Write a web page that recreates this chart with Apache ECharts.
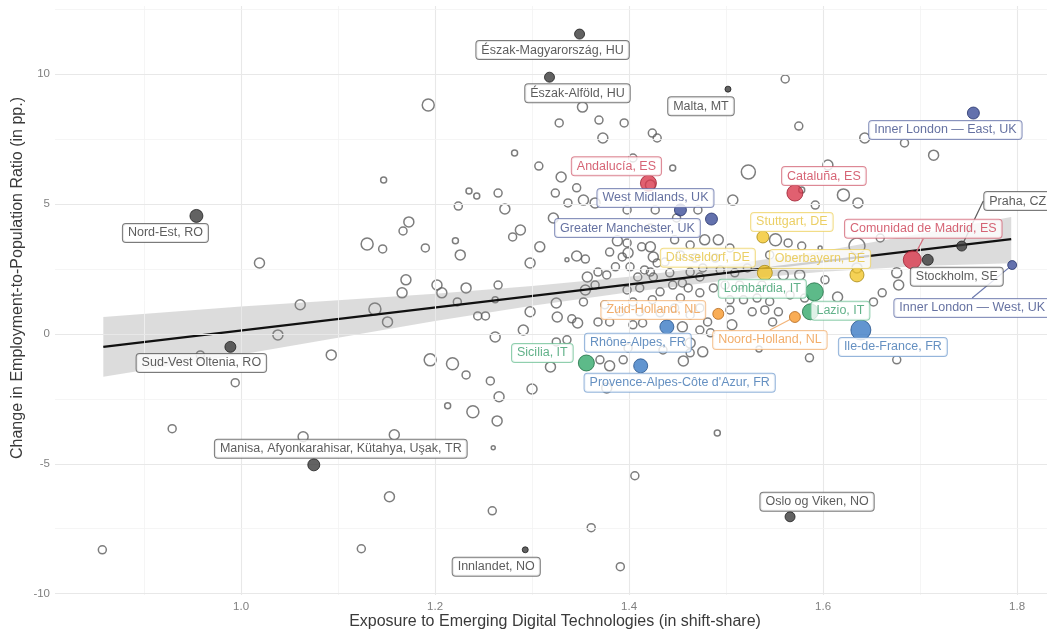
<!DOCTYPE html>
<html>
<head>
<meta charset="utf-8">
<script src="https://cdn.jsdelivr.net/npm/echarts@6/dist/echarts.min.js"></script>
<style>
  html, body { margin: 0; padding: 0; background: #ffffff; }
  #chart { width: 1047px; height: 634px; }
</style>
</head>
<body>
<div id="chart"></div>
<script>
// ---- Unlabelled regions: exposure (x), change in ratio (y), employment weight ----
const otherX = [0.857,0.929,0.958,0.994,1.019,1.038,1.061,1.064,1.093,1.124,1.130,1.146,1.147,1.138,1.151,1.158,1.153,1.167,1.173,1.166,
  1.170,1.193,1.190,1.195,1.202,1.207,1.213,1.218,1.221,1.224,1.223,1.226,1.232,1.232,1.235,1.243,1.239,1.244,1.252,1.257,
  1.260,1.259,1.262,1.264,1.265,1.266,1.265,1.262,1.272,1.280,1.282,1.288,1.291,1.298,1.298,1.300,1.307,1.308,1.319,1.322,
  1.324,1.325,1.326,1.325,1.328,1.330,1.336,1.337,1.336,1.341,1.346,1.346,1.347,1.352,1.353,1.353,1.355,1.357,1.355,1.361,
  1.365,1.365,1.368,1.368,1.369,1.370,1.373,1.377,1.377,1.380,1.380,1.380,1.386,1.388,1.391,1.393,1.395,1.394,1.398,1.398,
  1.399,1.398,1.399,1.401,1.404,1.404,1.404,1.406,1.409,1.411,1.413,1.414,1.416,1.422,1.422,1.422,1.424,1.424,1.425,1.425,
  1.427,1.429,1.429,1.432,1.435,1.442,1.445,1.445,1.449,1.453,1.453,1.455,1.455,1.456,1.461,1.463,1.463,1.463,1.463,1.471,
  1.473,1.473,1.473,1.476,1.476,1.478,1.481,1.484,1.487,1.491,1.492,1.494,1.504,1.504,1.504,1.506,1.507,1.509,1.518,1.522,
  1.523,1.527,1.540,1.532,1.534,1.545,1.551,1.554,1.559,1.561,1.564,1.548,1.575,1.578,1.578,1.586,1.592,1.597,1.605,1.615,
  1.621,1.635,1.636,1.643,1.652,1.659,1.661,1.676,1.678,1.676,1.684,1.714,1.635,1.375,1.391,1.432,1.411,1.463,1.473,1.447,
  1.437,1.468,1.447,1.489,1.514,1.499,1.537,1.545,1.576,1.581,1.566,1.602,1.422];
const otherY = [-8.31,-3.65,-0.81,-1.88,2.73,-0.04,1.12,-3.96,-0.81,-8.27,3.46,3.27,5.92,0.96,0.46,-3.88,-6.27,3.96,4.31,1.58,
  2.08,8.81,3.31,-1.00,1.88,1.58,-2.77,-1.15,3.58,4.92,1.23,3.04,1.77,-1.58,5.50,5.31,-3.00,0.69,0.69,-1.81,
  -4.38,-6.81,1.31,-3.35,1.88,-2.42,5.42,-0.12,4.81,3.73,6.96,4.00,0.15,2.73,0.85,-2.12,6.46,3.35,-1.27,4.46,
  5.42,1.19,0.65,-0.31,8.12,6.04,2.85,5.04,-0.23,0.58,5.62,3.00,0.42,8.73,5.15,1.23,2.88,2.19,1.69,-7.46,
  5.04,1.88,2.38,0.46,8.23,-1.00,7.54,2.27,-2.08,3.15,0.46,-1.23,2.58,3.58,-8.96,2.96,8.12,-1.00,4.77,3.50,
  3.12,1.69,-0.54,2.58,6.77,1.23,0.35,-5.46,2.19,1.77,3.35,0.42,2.46,5.73,3.35,2.38,7.73,1.31,2.96,2.19,
  4.77,7.54,2.73,1.62,-0.62,2.35,6.38,1.88,4.46,3.04,1.38,1.96,0.27,-1.04,1.77,3.42,2.38,-0.35,-0.73,4.77,
  2.19,1.58,0.15,2.54,-0.69,3.62,0.46,0.04,1.77,-3.81,3.62,2.46,3.31,1.31,0.92,0.35,5.15,2.35,1.31,2.54,
  6.23,0.85,0.92,1.38,-0.58,1.25,3.62,0.85,2.27,9.81,3.50,0.46,8.00,5.54,3.38,-0.92,4.96,3.31,6.50,1.42,
  5.35,3.38,5.04,7.54,1.23,3.69,1.58,2.35,1.88,-1.00,7.35,6.88,2.54,1.12,0.85,0.81,0.85,0.73,1.00,1.00,
  2.77,2.92,3.62,2.92,1.88,1.88,1.88,3.04,2.27,1.38,1.50,2.08,4.08];
const otherW = [16,16,16,16,25,25,25,25,25,16,36,16,9,36,25,25,25,16,25,25,
  25,36,16,36,25,25,9,36,9,16,16,25,25,16,9,9,36,16,16,16,
  4,16,9,25,16,25,16,25,25,16,9,25,25,25,25,25,16,25,25,25,
  16,25,25,16,16,25,4,16,16,16,16,25,25,25,25,16,16,25,25,16,
  25,16,16,16,16,16,25,16,25,16,16,25,16,25,16,16,16,16,16,16,
  25,16,16,16,16,16,16,16,16,16,16,16,16,25,25,16,16,16,25,16,
  16,16,16,16,16,16,9,16,16,16,16,16,25,25,16,16,16,25,16,16,
  16,16,16,16,25,25,16,16,16,9,25,16,16,16,16,25,25,16,16,16,
  49,16,16,16,9,16,36,16,25,16,16,16,16,9,16,16,16,4,25,25,
  36,64,25,25,16,16,16,25,25,16,16,25,25,16,16,16,16,16,16,16,
  16,16,16,16,16,16,16,16,25,16,16,16,16];

// ---- Labelled regions ----
const hlNames = ['Észak-Magyarország, HU','Észak-Alföld, HU','Malta, MT','Nord-Est, RO','Sud-Vest Oltenia, RO',
  'Manisa, Afyonkarahisar, Kütahya, Uşak, TR','Innlandet, NO','Oslo og Viken, NO','Praha, CZ','Stockholm, SE',
  'Comunidad de Madrid, ES','Cataluña, ES','Andalucía, ES','West Midlands, UK','Greater Manchester, UK',
  'Inner London — East, UK','Inner London — West, UK','Stuttgart, DE','Düsseldorf, DE','Oberbayern, DE',
  'Lombardia, IT','Lazio, IT','Noord-Holland, NL','Zuid-Holland, NL','Rhône-Alpes, FR',
  "Provence-Alpes-Côte d'Azur, FR",'Ile-de-France, FR','Sicilia, IT'];
const hlX = [1.349,1.318,1.502,0.954,0.989,1.075,1.293,1.566,1.743,1.708,
  1.692,1.571,1.420,1.453,1.485,1.755,1.795,1.538,1.540,1.635,
  1.591,1.587,1.571,1.492,1.439,1.412,1.639,1.356];
const hlY = [11.54,9.88,9.42,4.54,-0.50,-5.04,-8.31,-7.04,3.38,2.85,
  2.85,5.42,5.80,4.77,4.42,8.50,2.65,3.73,2.35,2.27,
  1.62,0.85,0.65,0.77,0.27,-1.23,0.15,-1.12];
const hlW = [25,25,9,42,30,36,9,25,25,30,
  81,64,64,36,36,36,20,36,56,49,
  81,64,30,30,49,49,100,64];
const hlGroup = ['misc','misc','misc','misc','misc','misc','misc','misc','misc','misc',
  'ES','ES','ES','UK','UK','UK','UK','DE','DE','DE',
  'IT','IT','NL','NL','FR','FR','FR','IT'];

// Fitted line end points and confidence band
const fitX = [0.858, 1.794];
const fitY = [-0.50, 3.65];
const bandX = [0.858, 1.0, 1.1, 1.2, 1.3, 1.4, 1.5, 1.6, 1.7, 1.794];
const bandLow = [-1.65, -0.79, -0.15, 0.50, 1.08, 1.60, 2.05, 2.39, 2.61, 2.72];
const bandHigh = [0.65, 1.05, 1.29, 1.54, 1.84, 2.20, 2.65, 3.19, 3.85, 4.50];

// Axis ticks
const xTicks = [1.0, 1.2, 1.4, 1.6, 1.8];
const yTicks = [-10, -5, 0, 5, 10];
const xMinor = [0.9, 1.1, 1.3, 1.5, 1.7];
const yMinor = [-7.5, -2.5, 2.5, 7.5, 12.5];

// ---- Layout / styling (label placement in pixels relative to the point) ----
const labelShift = [[-27,16],[28,16],[-27,17],[-31,17],[-29,16],
  [27,-16],[-29,17],[27,-15],[56,-45],[29,17],
  [11,-31],[29,-17],[-32,-17],[-25,-12],[-84,9],
  [-28,17],[-40,43],[29,-15],[-57,-15],[-37,-16],
  [-52,-3],[30,-1],[-25,23],[-65,-4],[-29,16],
  [39,17],[32,17],[-44,-10]];
const leaderOn = ['Praha, CZ','Comunidad de Madrid, ES','Inner London — West, UK','Noord-Holland, NL'];

const palette = {
  misc: { fill: '#3b3b3b', edge: '#1e1e1e', text: '#333333', box: '#5a5a5a' },
  ES:   { fill: '#d9384c', edge: '#9c1f31', text: '#cc3d52', box: '#d46a7a' },
  UK:   { fill: '#3c4e98', edge: '#26336b', text: '#3e4d8a', box: '#6b78ad' },
  DE:   { fill: '#f2c52b', edge: '#a88915', text: '#e6c33e', box: '#efd469' },
  IT:   { fill: '#35a96b', edge: '#1f6e44', text: '#3a9e6c', box: '#74c39a' },
  NL:   { fill: '#f7982c', edge: '#b3661a', text: '#ef9a47', box: '#f3b57a' },
  FR:   { fill: '#3b7ac4', edge: '#23508a', text: '#3e74b2', box: '#7aa2d2' }
};

const FONT = '"Liberation Sans", Arial, sans-serif';
const xMin = 0.8082, xMax = 1.8309, yMin = -10.05, yMax = 12.62;

const sizeOf = w => 2 * Math.sqrt(w);

const otherData = otherX.map((x, i) => [x, otherY[i], otherW[i]]);

const hlData = hlNames.map((n, i) => {
  const c = palette[hlGroup[i]];
  const lead = leaderOn.indexOf(n) >= 0;
  return {
    name: n,
    value: [hlX[i], hlY[i], hlW[i]],
    itemStyle: { color: c.fill, borderColor: c.edge, borderWidth: 1 },
    label: { color: c.text, borderColor: c.box },
    labelLine: { show: lead, lineStyle: { color: c.box, width: 1.2 } }
  };
});

const major = { color: '#e8e8e8', width: 1.1, type: 'solid' };
const minor = { color: '#f3f3f3', width: 0.8, type: 'solid' };
const gridLines = [];
xTicks.forEach(v => gridLines.push({ xAxis: v, lineStyle: major }));
xMinor.forEach(v => gridLines.push({ xAxis: v, lineStyle: minor }));
yTicks.forEach(v => gridLines.push({ yAxis: v, lineStyle: major }));
yMinor.forEach(v => gridLines.push({ yAxis: v, lineStyle: minor }));

const chart = echarts.init(document.getElementById('chart'), null, { renderer: 'canvas' });

chart.setOption({
  animation: false,
  backgroundColor: '#ffffff',
  grid: { left: 55, right: 0, top: 6, bottom: 39, containLabel: false },
  xAxis: {
    type: 'value', min: xMin, max: xMax,
    axisLine: { show: false }, axisTick: { show: false }, splitLine: { show: false },
    axisLabel: { customValues: xTicks, formatter: v => v.toFixed(1), color: '#808080',
      fontSize: 11.5, fontFamily: FONT, margin: 6 }
  },
  yAxis: {
    type: 'value', min: yMin, max: yMax,
    axisLine: { show: false }, axisTick: { show: false }, splitLine: { show: false },
    axisLabel: { customValues: yTicks, formatter: v => String(v), color: '#808080',
      fontSize: 11.5, fontFamily: FONT, margin: 5 }
  },
  graphic: [
    { type: 'text', x: 555, y: 622, z: 10,
      style: { text: 'Exposure to Emerging Digital Technologies (in shift-share)',
        fill: '#3a3a3a', fontSize: 16, fontFamily: FONT, align: 'center', verticalAlign: 'middle' } },
    { type: 'text', x: 18, y: 278, rotation: Math.PI / 2, z: 10,
      style: { text: 'Change in Employment-to-Population Ratio (in pp.)',
        fill: '#3a3a3a', fontSize: 16, fontFamily: FONT, align: 'center', verticalAlign: 'middle' } }
  ],
  series: [
    {
      type: 'scatter', name: 'grid', data: [], z: 0, silent: true,
      markLine: { silent: true, symbol: 'none', animation: false, label: { show: false },
        lineStyle: { type: 'solid' }, data: gridLines }
    },
    {
      type: 'scatter', name: 'regions', data: otherData, z: 2, silent: true,
      symbol: 'circle', symbolSize: d => sizeOf(d[2]),
      itemStyle: { color: 'rgba(255,255,255,0)', borderColor: '#5c5c5c', borderWidth: 1.5 }
    },
    {
      type: 'custom', name: 'band', z: 3, silent: true,
      data: bandX.map((x, i) => [x, bandLow[i], bandHigh[i]]),
      encode: { x: 0, y: [1, 2] },
      renderItem: (params, api) => {
        if (params.dataIndex !== 0) return null;
        const pts = [];
        for (let i = 0; i < bandX.length; i++) pts.push(api.coord([bandX[i], bandHigh[i]]));
        for (let i = bandX.length - 1; i >= 0; i--) pts.push(api.coord([bandX[i], bandLow[i]]));
        return { type: 'polygon', shape: { points: pts }, style: { fill: 'rgba(140,140,140,0.3)' } };
      }
    },
    {
      type: 'line', name: 'fit', z: 4, silent: true, symbol: 'none',
      data: fitX.map((x, i) => [x, fitY[i]]),
      lineStyle: { color: '#111111', width: 2.3 }
    },
    {
      type: 'scatter', name: 'labelled', data: hlData, z: 5,
      symbol: 'circle', symbolSize: d => sizeOf(d[2]),
      label: {
        show: true, position: 'inside', formatter: p => p.name,
        fontSize: 12.5, fontFamily: FONT, backgroundColor: '#ffffff',
        borderWidth: 1, borderRadius: 3, padding: [3, 5, 2, 5]
      },
      labelLine: { show: false },
      labelLayout: p => ({ dx: labelShift[p.dataIndex][0], dy: labelShift[p.dataIndex][1] })
    }
  ]
});
</script>
</body>
</html>
